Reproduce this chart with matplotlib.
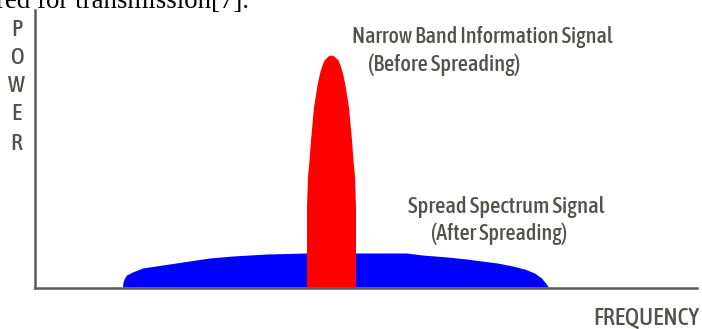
import matplotlib
matplotlib.use("Agg")
import matplotlib.pyplot as plt
import matplotlib.font_manager as fm

# spread signal (blue) profile
blue_freq = [88, 88.5, 90, 92, 98, 108, 128, 148, 175, 198, 232, 272, 372,
             388, 413, 432, 447, 463, 478, 490, 500, 507, 511, 514]
blue_power = [0, 5, 9, 12, 15, 19, 22, 25, 29, 31, 33, 34, 34,
              32, 30, 28, 26, 24, 21, 18, 14, 9, 4, 0]

# narrow band signal (red) profile
red_freq = [272, 272, 273, 274.5, 276, 279, 282.5, 285, 287.5, 289.5, 293.5, 296.5,
            299.5, 303.5, 305.5, 308, 310.5, 314, 317, 318.5, 320, 321, 321]
red_power = [0, 80, 111, 127, 147, 180, 202, 214, 222, 227, 231, 232,
             231, 227, 222, 214, 202, 180, 147, 127, 111, 80, 0]

axis_letters = "POWER"
narrow_label = ["Narrow Band Information Signal", "(Before Spreading)"]
spread_label = ["Spread Spectrum Signal", "(After Spreading)"]
x_label = "FREQUENCY"
caption = "red for transmission[7]."

W, H = 702, 329

# look for a condensed sans face, the labels in the picture are narrow
cond = [f for f in fm.fontManager.ttflist
        if ("Narrow" in f.name or "Condensed" in f.name
            or str(f.stretch) in ("condensed", "semi-condensed", "extra-condensed"))
        and f.style == "normal" and "Mono" not in f.name and "Serif" not in f.name]
cond.sort(key=lambda f: abs((f.weight if isinstance(f.weight, int) else 400) - 500))
if cond:
    lab_prop = fm.FontProperties(fname=cond[0].fname)
else:
    lab_prop = fm.FontProperties(family=["Liberation Sans", "DejaVu Sans"])

text_col = "#52524a"
line_col = "#5c5c54"

fig = plt.figure(figsize=(W / 100, H / 100), dpi=100)
fig.patch.set_facecolor("white")
renderer = fig.canvas.get_renderer()


def px(x, y):
    return x / W, 1 - y / H


def label(x, y, s, width, **kw):
    # put a label at pixel (x, baseline y) and size it to the width in the picture
    t = fig.text(*px(x, y), s, va="baseline", color=text_col,
                 fontproperties=lab_prop.copy(), fontsize=10, **kw)
    w = t.get_window_extent(renderer).width
    t.set_fontsize(10 * width / w)
    return t


x0, x1, ytop, ybase = 35, 697, 10, 287.5
ax = fig.add_axes([x0 / W, (H - ybase) / H, (x1 - x0) / W, (ybase - ytop) / H])
ax.set_xlim(0, x1 - x0)
ax.set_ylim(0, ybase - ytop)

ax.fill(blue_freq, blue_power, color="#0000ff", lw=0)
ax.fill(red_freq, red_power, color="#ff0000", lw=0)

for s in ["top", "right"]:
    ax.spines[s].set_visible(False)
for s in ["left", "bottom"]:
    ax.spines[s].set_color(line_col)
    ax.spines[s].set_linewidth(1.8)
ax.set_xticks([])
ax.set_yticks([])
ax.patch.set_alpha(0)

t1 = label(352, 43, narrow_label[0], 260)
label(368, 71, narrow_label[1], 152)
label(408, 212.5, spread_label[0], 196)
label(431, 240, spread_label[1], 136)
label(593, 325, x_label, 105)

# vertical POWER label, one letter per line
power_base = [36.5, 63.5, 92, 120, 150]
for ch, yb in zip(axis_letters, power_base):
    fig.text(*px(16.5, yb), ch, ha="center", va="baseline", color=text_col,
             fontproperties=lab_prop.copy(), fontsize=t1.get_fontsize() * 1.05)

fig.text(*px(249, 7.5), caption, ha="right", va="baseline", color="black",
         family=["Liberation Serif", "DejaVu Serif"], fontsize=19.4)

fig.savefig("out.png", dpi=100, facecolor="white")
